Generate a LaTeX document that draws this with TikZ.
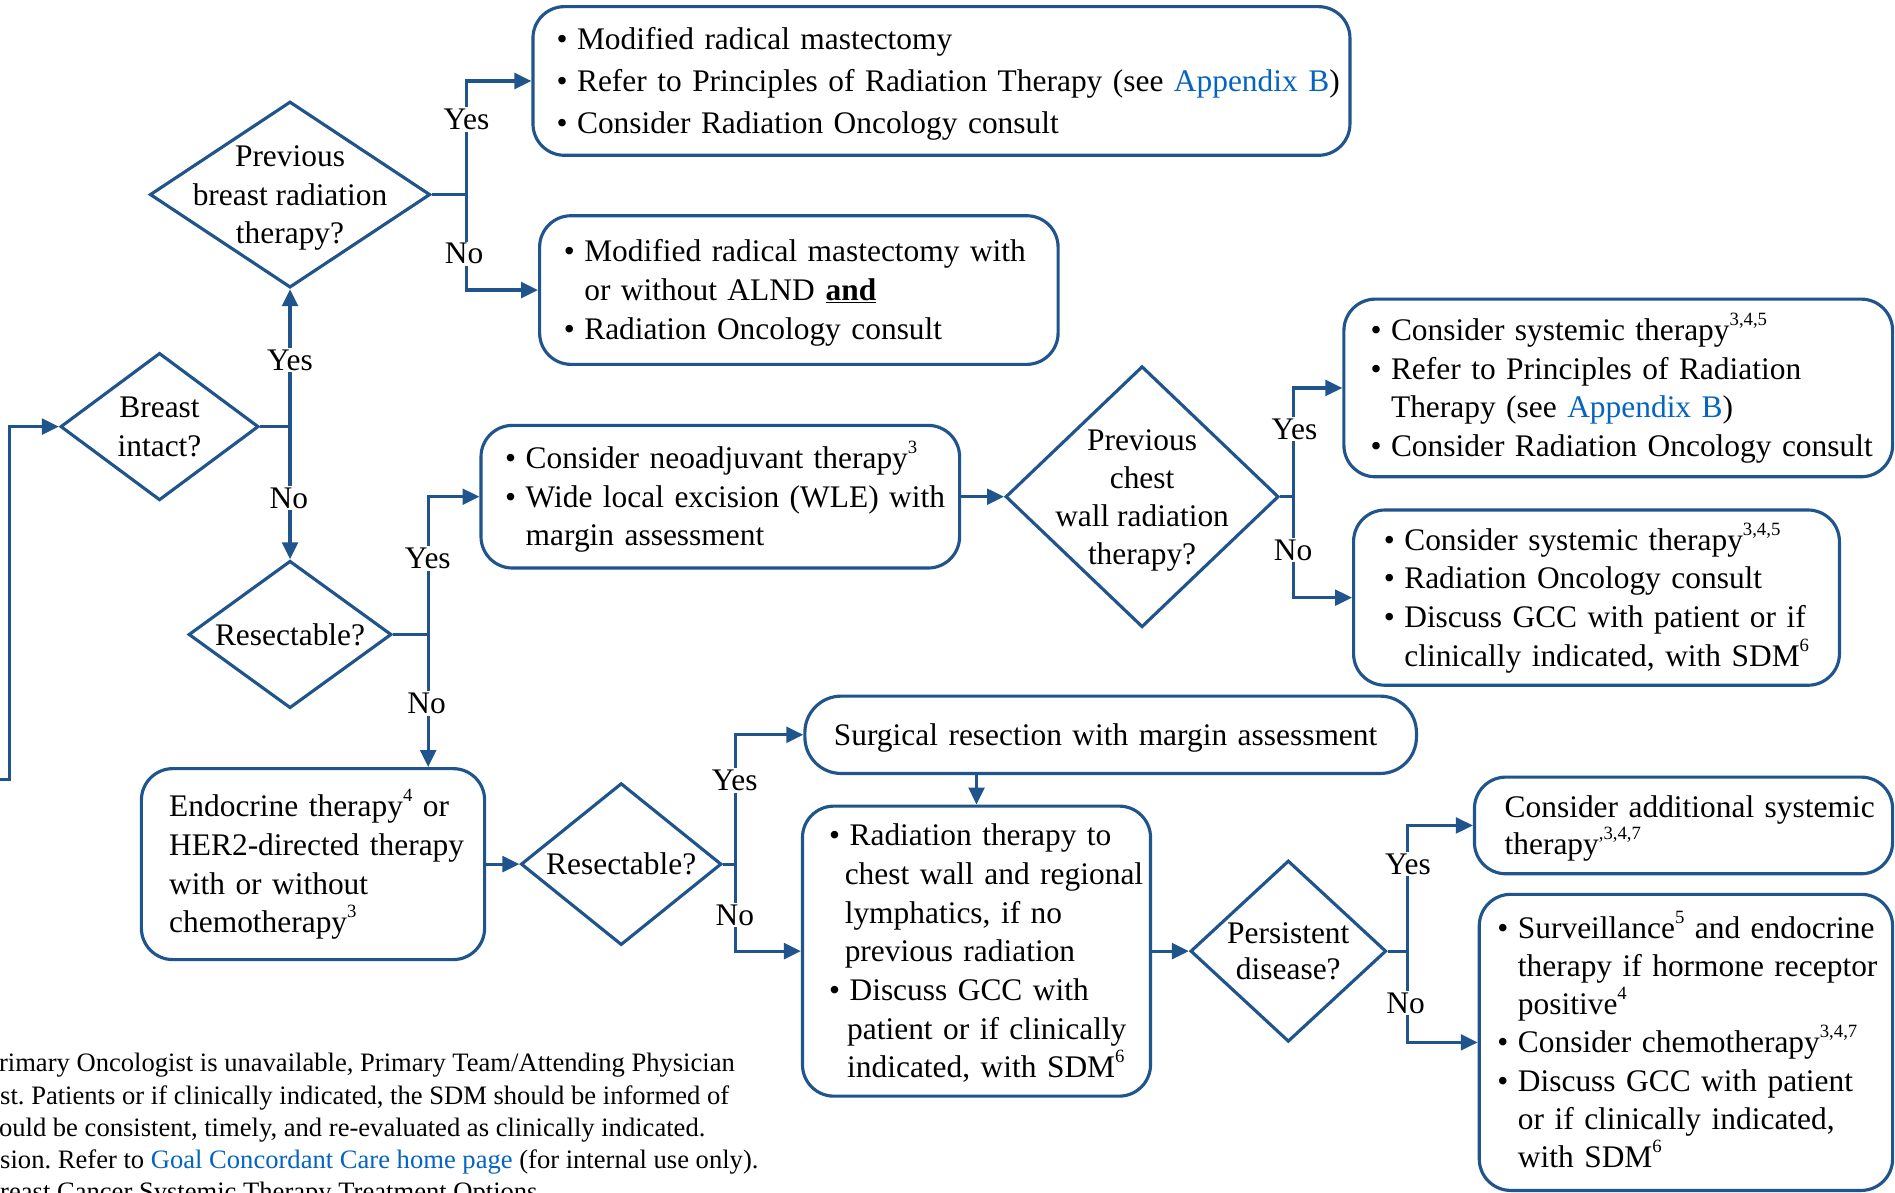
\documentclass[tikz,border=0pt]{standalone}
\usepackage{fontspec}
\setmainfont{Liberation Serif}
\usetikzlibrary{shapes.geometric,arrows.meta}
\frenchspacing
\definecolor{fc}{RGB}{31,84,140}
\definecolor{lnk}{RGB}{5,99,193}
\newlength\bulw \setlength\bulw{17pt}
\newcommand\stt{\rule[-6pt]{0pt}{29.5pt}}
\newcommand\bl[1]{\mbox{\stt\makebox[\bulw][l]{\textbullet}#1}}
\newcommand\cl[2][\bulw]{\mbox{\stt\hspace*{#1}#2}}
\newcommand\pl[1]{\mbox{\stt#1}}
\newcommand\ssp[1]{\smash{\raisebox{12.5pt}{\fontsize{15.5}{16}\selectfont #1}}}
\tikzset{
  base/.style={font=\fontsize{26}{32}\selectfont, text=black},
  box/.style={draw=fc, line width=2.6pt, rectangle, rounded corners=26pt, align=left, inner ysep=0pt, base},
  dia/.style={draw=fc, line width=2.6pt, diamond, inner sep=-30pt, align=center, base},
  arr/.style={draw=fc, line width=2.6pt, -{Triangle[length=14pt,width=13pt]}},
  lab/.style={fill=white, inner sep=1.5pt, base},
  foot/.style={anchor=base west, inner sep=0pt, font=\fontsize{22}{26.5}\selectfont}
}
\begin{document}
\begin{tikzpicture}[x=1pt,y=-1pt]
\useasboundingbox (0,0) rectangle (1568,987);
\fill[white] (0,0) rectangle (1568,987);
\clip (0,0) rectangle (1568,987);

% diamonds
\node[dia, minimum width=232pt, minimum height=154pt] (D1) at (240,161) {\pl{Previous}\\\pl{breast radiation}\\\pl{therapy?}};
\node[dia, minimum width=164pt, minimum height=122pt] (D2) at (132,353) {\pl{Breast}\\\pl{intact?}};
\node[dia, minimum width=168pt, minimum height=122pt] (D3) at (240,525) {\pl{Resectable?}};
\node[dia, minimum width=226pt, minimum height=216pt, font=\fontsize{26}{31.3}\selectfont] (D4) at (945,411) {\pl{Previous}\\\pl{chest}\\\pl{wall radiation}\\\pl{therapy?}};
\node[dia, minimum width=166pt, minimum height=134pt] (D5) at (514,715) {\pl{Resectable?}};
\node[dia, minimum width=162pt, minimum height=150pt, font=\fontsize{26}{30}\selectfont] (D6) at (1066,787) {\pl{Persistent}\\\pl{disease?}};

% boxes
\node[box, font=\fontsize{26}{34.5}\selectfont, text width=637pt, inner xsep=19.5pt, minimum height=123pt] (B1) at (779,67)
  {\bl{Modified radical mastectomy}\\\bl{Refer to Principles of Radiation Therapy (see \textcolor{lnk}{Appendix B})}\\\bl{Consider Radiation Oncology consult}};
\node[box, text width=389pt, inner xsep=20pt, minimum height=123pt] (B2) at (661,240)
  {\bl{Modified radical mastectomy with}\\\cl{or without ALND\hspace{9pt}\underline{\textbf{and}}}\\\bl{Radiation Oncology consult}};
\node[box, text width=356pt, inner xsep=20pt, minimum height=118pt] (B3) at (596,411)
  {\bl{Consider neoadjuvant therapy\ssp{3}}\\\bl{Wide local excision (WLE) with}\\\cl{margin assessment}};
\node[box, text width=238pt, inner xsep=23pt, minimum height=158pt] (B4) at (259,715)
  {\pl{Endocrine therapy\ssp{4} or}\\\pl{HER2-directed therapy}\\\pl{with or without}\\\pl{chemotherapy\ssp{3}}};
\node[box, text width=410pt, inner xsep=22pt, minimum height=147pt] (B5) at (1339,321)
  {\bl{Consider systemic therapy\ssp{3,4,5}}\\\bl{Refer to Principles of Radiation}\\\cl{Therapy (see \textcolor{lnk}{Appendix B})}\\\bl{Consider Radiation Oncology consult}};
\node[box, text width=352pt, inner xsep=25pt, minimum height=145pt] (B6) at (1321,494.5)
  {\bl{Consider systemic therapy\ssp{3,4,5}}\\\bl{Radiation Oncology consult}\\\bl{Discuss GCC with patient or if}\\\cl{clinically indicated, with SDM\ssp{6}}};
\node[box, rounded corners=30pt, text width=458pt, inner xsep=24pt, minimum height=64pt] (B7) at (919,608)
  {\pl{Surgical resection with margin assessment}};
\node[box, text width=244pt, inner xsep=22pt, minimum height=240pt] (B8) at (808,787)
  {\bl{Radiation therapy to}\\\cl[13pt]{chest wall and regional}\\\cl[13pt]{lymphatics, if no}\\\cl[13pt]{previous radiation}\\\bl{Discuss GCC with}\\\cl[15pt]{patient or if clinically}\\\cl[15pt]{indicated, with SDM\ssp{6}}};
\node[box, font=\fontsize{26}{31}\selectfont, text width=296pt, inner xsep=25pt, minimum height=80pt] (B9) at (1393,683)
  {\pl{Consider additional systemic}\\\pl{therapy\ssp{,3,4,7}}};
\node[box, font=\fontsize{26}{31.5}\selectfont, text width=312pt, inner xsep=15pt, minimum height=245pt] (B10) at (1395,862.5)
  {\bl{Surveillance\ssp{5} and endocrine}\\\cl{therapy if hormone receptor}\\\cl{positive\ssp{4}}\\\bl{Consider chemotherapy\ssp{3,4,7}}\\\bl{Discuss GCC with patient}\\\cl{or if clinically indicated,}\\\cl{with SDM\ssp{6}}};

% junctions
\coordinate (start) at (0,645);
\coordinate (s1) at (8,645);
\coordinate (j1) at ([xshift=29pt]D1.east);
\coordinate (j3) at ([xshift=29pt]D3.east);
\coordinate (j4) at ([xshift=11pt]D4.east);
\coordinate (j5) at ([xshift=10pt]D5.east);
\coordinate (j6) at ([xshift=16pt]D6.east);

% connectors
\draw[arr] (start) -- (s1) |- (D2.west);
\draw[arr] (D2.east) -| (D1.south);
\draw[arr] (D2.east) -| (D3.north);
\draw[arr] (D1.east) -- (j1) |- (B1.west);
\draw[arr] (j1) |- (B2.west);
\draw[arr] (D3.east) -- (j3) |- (B3.west);
\draw[arr] (j3) -- (j3 |- B4.north);
\draw[arr] (B3.east) -- (D4.west);
\draw[arr] (D4.east) -- (j4) |- (B5.west);
\draw[arr] (j4) |- (B6.west);
\draw[arr] (B4.east) -- (D5.west);
\draw[arr] (D5.east) -- (j5) |- (B7.west);
\draw[arr] (j5) |- (B8.west);
\draw[arr] (B7.south -| B8.north) -- (B8.north);
\draw[arr] (B8.east) -- (D6.west);
\draw[arr] (D6.east) -- (j6) |- (B9.west);
\draw[arr] (j6) |- (B10.west);

% labels
\node[lab] (l1) at (386,99) {Yes};
\node[lab] (l2) at (384,210) {No};
\node[lab] (l3) at (240,298) {Yes};
\node[lab] (l4) at (239,412) {No};
\node[lab] (l5) at (354,462) {Yes};
\node[lab] (l6) at (353,582) {No};
\node[lab] (l7) at (1071,355) {Yes};
\node[lab] (l8) at (1070,455) {No};
\node[lab] (l9) at (608,646) {Yes};
\node[lab] (l10) at (608,757) {No};
\node[lab] (l11) at (1165,715) {Yes};
\node[lab] (l12) at (1163,830) {No};

% footnote
\node[foot] (f1) at (-1,887) {rimary Oncologist is unavailable, Primary Team/Attending Physician};
\node[foot] (f2) at (0,913.5) {st. Patients or if clinically indicated, the SDM should be informed of};
\node[foot] (f3) at (-1,940) {ould be consistent, timely, and re-evaluated as clinically indicated.};
\node[foot] (f4) at (0,966.5) {sion. Refer to \textcolor{lnk}{Goal Concordant Care home page} (for internal use only).};
\node[foot] (f5) at (0,993) {reast Cancer Systemic Therapy Treatment Options};
\end{tikzpicture}
\end{document}
